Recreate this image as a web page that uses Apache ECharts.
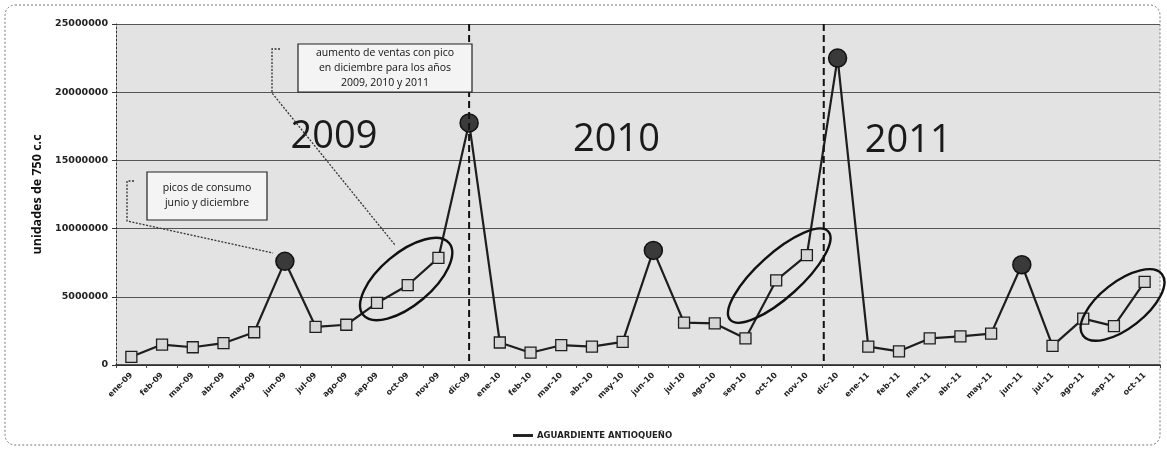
<!DOCTYPE html>
<html>
<head>
<meta charset="utf-8">
<script src="https://cdn.jsdelivr.net/npm/echarts@6/dist/echarts.min.js"></script>
<style>
  html, body { margin: 0; padding: 0; background: #ffffff; }
  #chart { width: 1167px; height: 450px; }
</style>
</head>
<body>
<div id="chart"></div>
<script>
// Monthly sales, Jan 2009 – Oct 2011
const months = [
  'ene-09','feb-09','mar-09','abr-09','may-09','jun-09','jul-09','ago-09','sep-09','oct-09','nov-09','dic-09',
  'ene-10','feb-10','mar-10','abr-10','may-10','jun-10','jul-10','ago-10','sep-10','oct-10','nov-10','dic-10',
  'ene-11','feb-11','mar-11','abr-11','may-11','jun-11','jul-11','ago-11','sep-11','oct-11'
];
const aguardiente = [
  600000, 1500000, 1300000, 1600000, 2400000, 7600000, 2800000, 2950000, 4550000, 5850000, 7850000, 17750000,
  1650000, 900000, 1450000, 1350000, 1700000, 8400000, 3100000, 3050000, 1950000, 6200000, 8050000, 22500000,
  1350000, 1000000, 1950000, 2100000, 2300000, 7350000, 1400000, 3400000, 2850000, 6100000
];
const peakMonths = ['jun-09', 'dic-09', 'jun-10', 'dic-10', 'jun-11'];
const yTicks = [0, 5000000, 10000000, 15000000, 20000000, 25000000];
const seriesName = 'AGUARDIENTE ANTIOQUEÑO';
const yearLabels = ['2009', '2010', '2011'];

const chart = echarts.init(document.getElementById('chart'), null, { renderer: 'canvas' });

const seriesData = aguardiente.map((v, i) => {
  if (peakMonths.includes(months[i])) {
    return {
      value: v,
      symbol: 'circle',
      symbolSize: 18,
      itemStyle: { color: '#3a3a3a', borderColor: '#111', borderWidth: 1.5 }
    };
  }
  return v;
});

const option = {
  animation: false,
  backgroundColor: '#ffffff',
  grid: {
    left: 116, right: 7, top: 24, bottom: 85,
    show: true, backgroundColor: '#e3e3e3', borderWidth: 0
  },
  legend: {
    data: [{ name: seriesName, icon: 'path://M0,0 L20,0 L20,1 L0,1 Z' }],
    left: 508, top: 426,
    itemWidth: 18, itemHeight: 1, itemGap: 4,
    textStyle: { fontFamily: 'DejaVu Sans', fontSize: 8.5, fontWeight: 'bold', color: '#222' }
  },
  xAxis: {
    type: 'category',
    data: months,
    boundaryGap: true,
    axisLine: { show: true, lineStyle: { color: '#222', width: 1.5 } },
    axisTick: { show: true, length: 3, lineStyle: { color: '#444' } },
    axisLabel: {
      interval: 0, rotate: 45, margin: 9,
      fontFamily: 'DejaVu Sans', fontSize: 8, fontWeight: 'bold', color: '#222'
    },
    splitLine: { show: false }
  },
  yAxis: {
    type: 'value',
    min: yTicks[0], max: yTicks[yTicks.length - 1], interval: yTicks[1] - yTicks[0],
    name: 'unidades de 750 c.c',
    nameLocation: 'middle',
    nameGap: 72,
    nameRotate: 90,
    nameTextStyle: { fontFamily: 'Open Sans', fontSize: 12.5, fontWeight: 'bold', color: '#111' },
    axisLine: { show: true, lineStyle: { color: '#333', width: 1, type: [2, 2] } },
    axisTick: { show: true, length: 4, lineStyle: { color: '#333' } },
    axisLabel: {
      margin: 8,
      fontFamily: 'DejaVu Sans', fontSize: 9.5, fontWeight: 'bold', color: '#222',
      formatter: v => String(v)
    },
    splitLine: { show: true, lineStyle: { color: '#555', width: 1.2 } }
  },
  series: [{
    name: seriesName,
    type: 'line',
    data: seriesData,
    symbol: 'rect',
    symbolSize: 11,
    showAllSymbol: true,
    lineStyle: { color: '#1e1e1e', width: 2.2 },
    itemStyle: { color: '#d6d6d6', borderColor: '#1e1e1e', borderWidth: 1.3 },
    z: 3
  }]
};

chart.setOption(option);

// Pixel position of a (possibly fractional) category index and a value
function px(i, v) {
  const k = Math.floor(i);
  const a = chart.convertToPixel({ xAxisIndex: 0, yAxisIndex: 0 }, [k, v]);
  const b = chart.convertToPixel({ xAxisIndex: 0, yAxisIndex: 0 }, [k + 1, v]);
  return [a[0] + (b[0] - a[0]) * (i - k), a[1]];
}

const plotTop = px(0, 25000000)[1];
const plotBottom = px(0, 0)[1];
const idx = m => months.indexOf(m);

function dashedLine(i) {
  const x = px(i, 0)[0];
  return {
    type: 'line', z: 10,
    shape: { x1: x, y1: plotTop, x2: x, y2: plotBottom },
    style: { stroke: '#111', lineWidth: 2, lineDash: [7, 4] }
  };
}

function ring(i, v, rx, ry, deg) {
  const c = px(i, v);
  return {
    type: 'ellipse', z: 10,
    x: c[0], y: c[1], rotation: deg * Math.PI / 180,
    shape: { cx: 0, cy: 0, rx: rx, ry: ry },
    style: { fill: null, stroke: '#111', lineWidth: 2.4 }
  };
}

function yearText(text, i, v) {
  const p = px(i, v);
  return {
    type: 'text', z: 10, x: p[0], y: p[1],
    style: {
      text: text, fill: '#1a1a1a',
      font: '38px "Open Sans", "Liberation Sans", sans-serif',
      align: 'center', verticalAlign: 'middle'
    }
  };
}

function callout(x, y, w, h, lines, lh) {
  return [
    {
      type: 'rect', z: 11,
      shape: { x: x, y: y, width: w, height: h },
      style: { fill: '#f4f4f4', stroke: '#222', lineWidth: 1.2 }
    },
    {
      type: 'text', z: 12, x: x + w / 2, y: y + h / 2,
      style: {
        text: lines.join('\n'), fill: '#111',
        font: '10.5px "Open Sans", "Liberation Sans", sans-serif',
        lineHeight: lh, align: 'center', verticalAlign: 'middle'
      }
    }
  ];
}

const graphics = [
  // chart frame
  {
    type: 'rect', z: 0,
    shape: { x: 5, y: 5, width: 1155, height: 440, r: 10 },
    style: { fill: null, stroke: '#777', lineWidth: 1, lineDash: [2, 2] }
  },
  dashedLine(idx('dic-09')),
  dashedLine(idx('dic-10') - 0.45),
  ring(idx('oct-09') - 0.05, 6300000, 56, 26, 40),
  ring(idx('oct-10') + 0.1, 6550000, 66, 22, 42),
  ring(idx('sep-11') + 0.28, 4400000, 50, 23, 38),
  yearText(yearLabels[0], idx('jun-09') + 1.6, 16700000),
  yearText(yearLabels[1], idx('abr-10') + 0.8, 16500000),
  yearText(yearLabels[2], idx('mar-11') - 0.7, 16400000),
  // leader for the December callout
  {
    type: 'polyline', z: 11,
    shape: { points: [[280, 49], [272, 49], [272, 93], [395, 245]] },
    style: { fill: null, stroke: '#333', lineWidth: 1.3, lineDash: [2, 1.5] }
  },
  // leader for the June/December callout
  {
    type: 'polyline', z: 11,
    shape: { points: [[134, 181], [127, 181], [127, 221], [273, 253]] },
    style: { fill: null, stroke: '#333', lineWidth: 1.3, lineDash: [2, 1.5] }
  }
].concat(
  callout(298, 44, 174, 48, ['aumento de ventas con pico', 'en diciembre para los años', '2009, 2010 y 2011'], 15),
  callout(147, 172, 120, 48, ['picos de consumo', 'junio y diciembre'], 15)
);

chart.setOption({ graphic: graphics });
</script>
</body>
</html>
